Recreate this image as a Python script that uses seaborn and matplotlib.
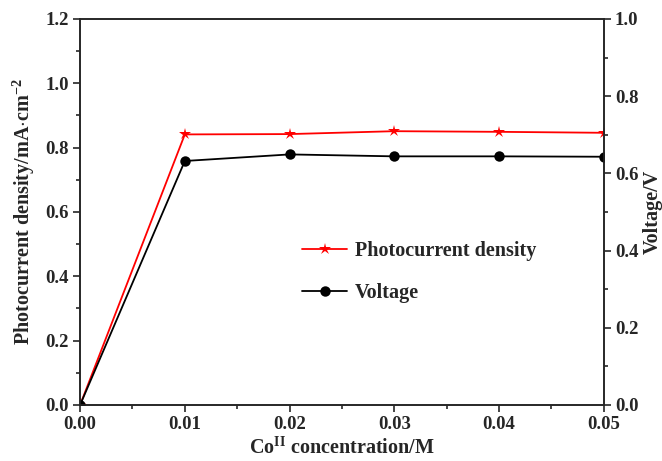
import numpy as np
import pandas as pd
import matplotlib
matplotlib.use("Agg")
import matplotlib.pyplot as plt
import seaborn as sns
from matplotlib.ticker import MultipleLocator, FormatStrFormatter
from matplotlib.lines import Line2D

# data
conc = [0.00, 0.01, 0.02, 0.03, 0.04, 0.05]
photocurrent = [0.0, 0.841, 0.842, 0.851, 0.849, 0.846]
voltage = [0.0, 0.632, 0.649, 0.644, 0.644, 0.643]

sns.set_style("ticks")
plt.rcParams['font.family'] = ['Liberation Serif', 'DejaVu Serif']
plt.rcParams['font.weight'] = 'bold'
plt.rcParams['mathtext.fontset'] = 'custom'
plt.rcParams['mathtext.rm'] = 'Liberation Serif:bold'
plt.rcParams['mathtext.bf'] = 'Liberation Serif:bold'

df = pd.DataFrame({"conc": conc, "photocurrent": photocurrent, "voltage": voltage})

fig = plt.figure(figsize=(6.62, 4.61), dpi=100)
ax = fig.add_axes([0.121, 0.1215, 0.791, 0.8375])
ax2 = ax.twinx()

sns.lineplot(data=df, x="conc", y="photocurrent", ax=ax, color="red", marker="*",
             markersize=9, markeredgewidth=0, linewidth=1.3)
sns.lineplot(data=df, x="conc", y="voltage", ax=ax2, color="black", marker="o",
             markersize=7.5, markeredgewidth=0, linewidth=1.3)

ax.set_xlim(0, 0.05)
ax.set_ylim(0, 1.2)
ax2.set_ylim(0, 1.0)

ax.xaxis.set_major_locator(MultipleLocator(0.01))
ax.xaxis.set_minor_locator(MultipleLocator(0.005))
ax.yaxis.set_major_locator(MultipleLocator(0.2))
ax.yaxis.set_minor_locator(MultipleLocator(0.1))
ax2.yaxis.set_major_locator(MultipleLocator(0.2))
ax2.yaxis.set_minor_locator(MultipleLocator(0.1))
ax.xaxis.set_major_formatter(FormatStrFormatter('%.2f'))
ax.yaxis.set_major_formatter(FormatStrFormatter('%.1f'))
ax2.yaxis.set_major_formatter(FormatStrFormatter('%.1f'))

for a in (ax, ax2):
    a.tick_params(which='major', length=5, width=1.2, labelsize=13.5, pad=3)
    a.tick_params(which='minor', length=3, width=1.2)
    for s in a.spines.values():
        s.set_visible(True)
        s.set_linewidth(1.2)

ax.set_xlabel(r"Co$^{\mathbf{II}}$ concentration/M", fontsize=14.5, fontweight='bold', labelpad=3)
ax.set_ylabel(r"Photocurrent density/mA$\cdot$cm$^{\mathbf{-2}}$", fontsize=14.5,
              fontweight='bold', labelpad=6)
ax2.set_ylabel("Voltage/V", fontsize=14.5, fontweight='bold', labelpad=3)

handles = [
    Line2D([], [], color="red", marker="*", markersize=9, markeredgewidth=0, linewidth=1.3),
    Line2D([], [], color="black", marker="o", markersize=7.5, markeredgewidth=0, linewidth=1.3),
]
ax.legend(handles, ["Photocurrent density", "Voltage"], loc="center left",
          bbox_to_anchor=(0.39, 0.345), frameon=False,
          handlelength=2.2, handletextpad=0.4, labelspacing=1.1,
          prop={'weight': 'bold', 'size': 14.5})

fig.savefig("out.png", dpi=100)
